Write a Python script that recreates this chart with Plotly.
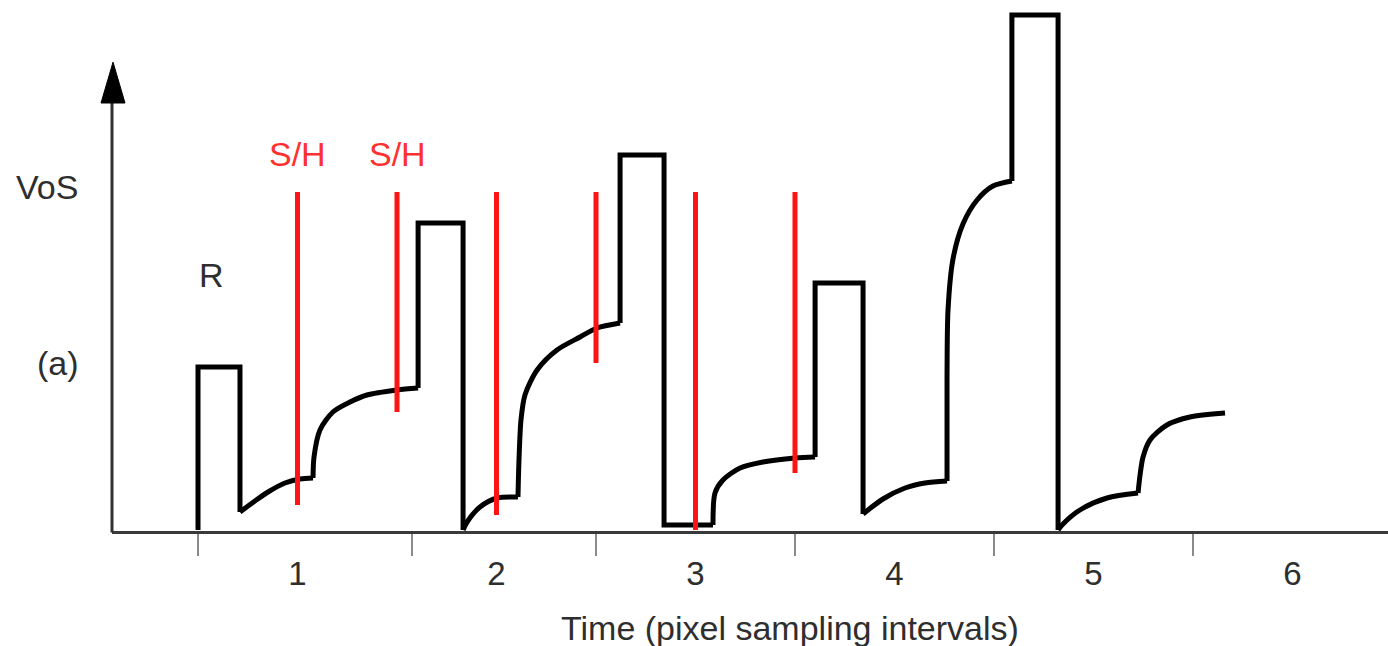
import plotly.graph_objects as go

# ---------------- data (time in pixel-sampling intervals, voltage arbitrary units) -------------
pulse_r_t = [0.0, 0.0, 0.211, 0.211]
pulse_r_v = [0.0, 1.63, 1.63, 0.18]
curve_a_t = [0.211, 0.286, 0.352, 0.437, 0.513, 0.578]
curve_a_v = [0.18, 0.29, 0.38, 0.47, 0.51, 0.52]
curve_b_t = [0.578, 0.583, 0.613, 0.678, 0.764, 0.849, 1.0, 1.106]
curve_b_v = [0.52, 0.73, 1.00, 1.18, 1.28, 1.35, 1.40, 1.42]
pulse_2_t = [1.106, 1.106, 1.332, 1.332]
pulse_2_v = [1.42, 3.07, 3.07, 0.0]
curve_c_t = [1.332, 1.352, 1.417, 1.503, 1.608]
curve_c_v = [0.0, 0.08, 0.23, 0.32, 0.33]
curve_d_t = [1.608, 1.613, 1.623, 1.643, 1.704, 1.804, 1.920, 2.005, 2.121]
curve_d_v = [0.33, 0.70, 1.10, 1.35, 1.60, 1.80, 1.93, 2.02, 2.07]
pulse_3_t = [2.121, 2.121, 2.342, 2.342, 2.588]
pulse_3_v = [2.07, 3.75, 3.75, 0.05, 0.05]
curve_e_t = [2.588, 2.598, 2.638, 2.724, 2.839, 3.0, 3.101]
curve_e_v = [0.05, 0.37, 0.50, 0.62, 0.68, 0.72, 0.73]
pulse_4_t = [3.101, 3.101, 3.342, 3.342]
pulse_4_v = [0.73, 2.47, 2.47, 0.16]
curve_f_t = [3.342, 3.442, 3.553, 3.653, 3.764]
curve_f_v = [0.16, 0.31, 0.42, 0.47, 0.49]
curve_g_t = [3.764, 3.764, 3.769, 3.794, 3.844, 3.915, 3.995, 4.090]
curve_g_v = [0.49, 1.51, 2.20, 2.71, 3.06, 3.30, 3.44, 3.49]
pulse_5_t = [4.090, 4.090, 4.322, 4.322]
pulse_5_v = [3.49, 5.15, 5.15, 0.0]
curve_h_t = [4.322, 4.342, 4.432, 4.568, 4.724]
curve_h_v = [0.0, 0.05, 0.20, 0.32, 0.37]
curve_i_t = [4.724, 4.734, 4.749, 4.784, 4.869, 4.985, 5.161]
curve_i_v = [0.37, 0.55, 0.73, 0.90, 1.05, 1.13, 1.17]

sh_t = [0.5, 1.0, 1.5, 2.0, 2.5, 3.0]
sh_top = 3.38
sh_bottom = [0.25, 1.18, 0.15, 1.67, 0.0, 0.57]
sh_label_t = [0.5, 1.0]
sh_label_text = ["S/H", "S/H"]

tick_positions = [0, 1.075, 2, 3, 4, 5]
label_positions = [0.5, 1.5, 2.5, 3.5, 4.5, 5.5]
label_text = ["1", "2", "3", "4", "5", "6"]

x_title = "Time (pixel sampling intervals)"
y_label = "VoS"
panel_label = "(a)"
reset_label = "R"

# ---------------- figure -------------
BLACK = "#000000"
RED = "#ff1414"
TXT = "#2e2e2e"
FONT = "Liberation Sans, Arial, sans-serif"

fig = go.Figure()

steps = [(pulse_r_t, pulse_r_v), (pulse_2_t, pulse_2_v), (pulse_3_t, pulse_3_v),
         (pulse_4_t, pulse_4_v), (pulse_5_t, pulse_5_v)]
curves = [(curve_a_t, curve_a_v), (curve_b_t, curve_b_v), (curve_c_t, curve_c_v),
          (curve_d_t, curve_d_v), (curve_e_t, curve_e_v), (curve_f_t, curve_f_v),
          (curve_g_t, curve_g_v), (curve_h_t, curve_h_v), (curve_i_t, curve_i_v)]

for t, v in steps:
    fig.add_trace(go.Scatter(x=t, y=v, mode="lines", line=dict(color=BLACK, width=5),
                             hoverinfo="skip"))
for t, v in curves:
    fig.add_trace(go.Scatter(x=t, y=v, mode="lines",
                             line=dict(color=BLACK, width=5, shape="spline", smoothing=0.8),
                             hoverinfo="skip"))

sx, sy = [], []
for t, b in zip(sh_t, sh_bottom):
    sx += [t, t, None]
    sy += [b, sh_top, None]
fig.add_trace(go.Scatter(x=sx, y=sy, mode="lines", line=dict(color=RED, width=5),
                         hoverinfo="skip"))

# invisible trace for the label axis
fig.add_trace(go.Scatter(x=label_positions, y=[None] * len(label_positions), xaxis="x2",
                         mode="lines", hoverinfo="skip"))

x_range = [-0.4322, 5.98]
y_range = [-0.01, 5.30]

fig.update_layout(
    width=1388, height=646,
    margin=dict(l=112, r=0, t=0, b=115),
    paper_bgcolor="white", plot_bgcolor="white",
    showlegend=False,
    font=dict(family=FONT, size=34, color=TXT),
    xaxis=dict(range=x_range, showline=True, linecolor="#3a3a3a", linewidth=3,
               ticks="outside", tickvals=tick_positions, ticklen=22, tickwidth=2,
               tickcolor="#8a8a8a", showticklabels=False, showgrid=False, zeroline=False),
    xaxis2=dict(range=x_range, overlaying="x", anchor="y", side="bottom",
                tickvals=label_positions, ticktext=label_text, ticks="outside",
                ticklen=13, tickcolor="rgba(0,0,0,0)", showline=False, showgrid=False,
                zeroline=False, tickfont=dict(family=FONT, size=33, color=TXT)),
    yaxis=dict(range=y_range, visible=False, showgrid=False, zeroline=False),
)

# y axis with arrow
fig.add_shape(type="line", xref="paper", yref="paper", x0=0, x1=0, y0=-0.003, y1=0.81,
              line=dict(color="#333333", width=3))
fig.add_shape(type="path", xref="paper", yref="paper",
              path="M -0.0086 0.806 L 0.0102 0.806 L 0.0008 0.883 Z",
              fillcolor="#000000", line=dict(color="#000000", width=1))

# annotations
fig.add_annotation(x=0.531, y=-0.183, xref="paper", yref="paper", text=x_title,
                   showarrow=False, font=dict(size=34, color=TXT), xanchor="center", yanchor="middle")
fig.add_annotation(x=-0.0509, y=0.648, xref="paper", yref="paper", text=y_label,
                   showarrow=False, font=dict(size=34, color=TXT), xanchor="center", yanchor="middle")
fig.add_annotation(x=-0.0423, y=0.316, xref="paper", yref="paper", text=panel_label,
                   showarrow=False, font=dict(size=34, color=TXT), xanchor="center", yanchor="middle")
fig.add_annotation(x=0.07, y=2.55, xref="x", yref="y", text=reset_label,
                   showarrow=False, font=dict(size=34, color=TXT), xanchor="center", yanchor="middle")
for t, s in zip(sh_label_t, sh_label_text):
    fig.add_annotation(x=t, y=3.76, xref="x", yref="y", text=s, showarrow=False,
                       font=dict(size=34, color="#ff3030"), xanchor="center", yanchor="middle")

fig.write_html("out.html")
